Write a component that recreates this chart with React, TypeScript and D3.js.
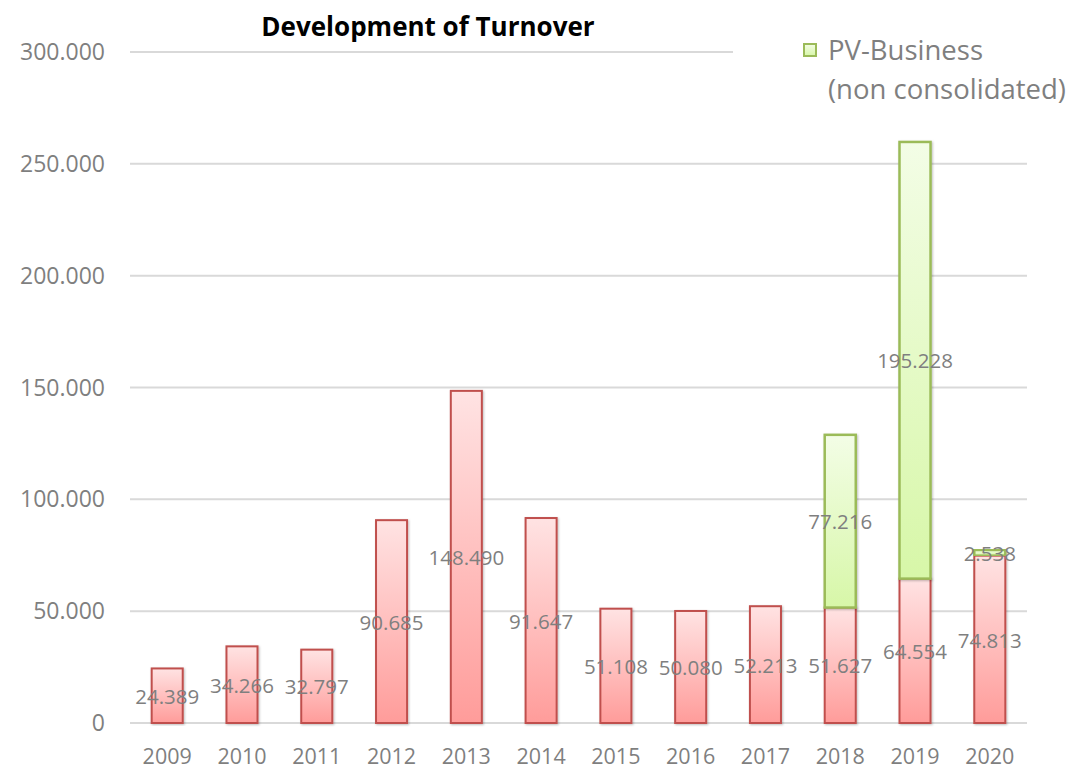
import React, { useEffect, useRef } from 'react';
import * as d3 from 'd3';

const years = ['2009', '2010', '2011', '2012', '2013', '2014', '2015', '2016', '2017', '2018', '2019', '2020'];
const turnover = [24389, 34266, 32797, 90685, 148490, 91647, 51108, 50080, 52213, 51627, 64554, 74813];
const pvBusiness = [0, 0, 0, 0, 0, 0, 0, 0, 0, 77216, 195228, 2538];
const yTicks = [0, 50000, 100000, 150000, 200000, 250000, 300000];
const legendLines = ['PV-Business', '(non consolidated)'];
const title = 'Development of Turnover';

const fmt = (v: number) => {
  if (v === 0) return '0';
  const s = Math.round(v).toString();
  return s.slice(0, s.length - 3) + '.' + s.slice(-3);
};

const App: React.FC = () => {
  const ref = useRef<SVGSVGElement | null>(null);

  useEffect(() => {
    if (!ref.current) return;
    const svg = d3.select(ref.current);
    svg.selectAll('*').remove();
    const width = 1074;
    const height = 769;
    const margin = { top: 52, right: 47, bottom: 46, left: 130 };
    const font = "'Open Sans', sans-serif";

    const x = d3.scaleBand()
      .domain(years)
      .range([margin.left, width - margin.right])
      .paddingInner(0.585)
      .paddingOuter(0.29);

    const y = d3.scaleLinear()
      .domain([0, 300000])
      .range([height - margin.bottom, margin.top]);

    const defs = svg.append('defs');
    const red = defs.append('linearGradient').attr('id', 'gRed').attr('x1', 0).attr('y1', 0).attr('x2', 0).attr('y2', 1);
    red.append('stop').attr('offset', '0%').attr('stop-color', '#ffe3e3');
    red.append('stop').attr('offset', '100%').attr('stop-color', '#ff9c9a');
    const green = defs.append('linearGradient').attr('id', 'gGreen').attr('x1', 0).attr('y1', 0).attr('x2', 0).attr('y2', 1);
    green.append('stop').attr('offset', '0%').attr('stop-color', '#f3fde6');
    green.append('stop').attr('offset', '100%').attr('stop-color', '#d7f7a8');
    const shadow = defs.append('filter').attr('id', 'shadow').attr('x', '-20%').attr('y', '-5%').attr('width', '140%').attr('height', '110%');
    shadow.append('feDropShadow').attr('dx', 1).attr('dy', 1).attr('stdDeviation', 1.2).attr('flood-color', '#000').attr('flood-opacity', 0.25);

    // gridlines
    svg.append('g')
      .selectAll('line')
      .data(yTicks)
      .enter().append('line')
      .attr('x1', margin.left)
      .attr('x2', d => d === 300000 ? 733 : width - margin.right)
      .attr('y1', d => y(d))
      .attr('y2', d => y(d))
      .attr('stroke', '#d9d9d9')
      .attr('stroke-width', 2);

    // y tick labels
    svg.append('g')
      .selectAll('text')
      .data(yTicks)
      .enter().append('text')
      .attr('x', 105)
      .attr('y', d => y(d))
      .attr('dy', '0.35em')
      .attr('text-anchor', 'end')
      .attr('font-family', font)
      .attr('font-size', 23)
      .attr('fill', '#7f7f7f')
      .text(d => fmt(d));

    // x labels
    svg.append('g')
      .selectAll('text')
      .data(years)
      .enter().append('text')
      .attr('x', d => (x(d) as number) + x.bandwidth() / 2)
      .attr('y', 764)
      .attr('text-anchor', 'middle')
      .attr('font-family', font)
      .attr('font-size', 21.5)
      .attr('fill', '#7f7f7f')
      .text(d => d);

    const rows = years.map((yr, i) => ({ yr, a: turnover[i], b: pvBusiness[i] }));

    // turnover bars
    svg.append('g')
      .selectAll('rect')
      .data(rows)
      .enter().append('rect')
      .attr('x', d => x(d.yr) as number)
      .attr('y', d => y(d.a))
      .attr('width', x.bandwidth())
      .attr('height', d => y(0) - y(d.a))
      .attr('fill', 'url(#gRed)')
      .attr('stroke', '#c0504d')
      .attr('stroke-width', 2)
      .attr('filter', 'url(#shadow)');

    // pv bars
    svg.append('g')
      .selectAll('rect')
      .data(rows.filter(d => d.b > 0))
      .enter().append('rect')
      .attr('x', d => x(d.yr) as number)
      .attr('y', d => y(d.a + d.b))
      .attr('width', x.bandwidth())
      .attr('height', d => y(d.a) - y(d.a + d.b))
      .attr('fill', 'url(#gGreen)')
      .attr('stroke', '#9bbb59')
      .attr('stroke-width', 2.5)
      .attr('filter', 'url(#shadow)');

    // labels
    const labels = svg.append('g')
      .attr('font-family', font)
      .attr('font-size', 20.5)
      .attr('fill', '#7f7f7f')
      .attr('text-anchor', 'middle');
    labels.selectAll('.la')
      .data(rows)
      .enter().append('text')
      .attr('class', 'la')
      .attr('x', d => (x(d.yr) as number) + x.bandwidth() / 2)
      .attr('y', d => (y(0) + y(d.a)) / 2 + 1)
      .attr('dy', '0.35em')
      .text(d => fmt(d.a));
    labels.selectAll('.lb')
      .data(rows.filter(d => d.b > 0))
      .enter().append('text')
      .attr('class', 'lb')
      .attr('x', d => (x(d.yr) as number) + x.bandwidth() / 2)
      .attr('y', d => (y(d.a) + y(d.a + d.b)) / 2 + 1)
      .attr('dy', '0.35em')
      .text(d => fmt(d.b));

    // title
    svg.append('text')
      .attr('x', 428)
      .attr('y', 27)
      .attr('dy', '0.35em')
      .attr('text-anchor', 'middle')
      .attr('font-family', font)
      .attr('font-weight', 'bold')
      .attr('font-size', 26)
      .attr('fill', '#000')
      .text(title);

    // legend
    const lg = svg.append('g');
    lg.append('rect')
      .attr('x', 804).attr('y', 44).attr('width', 12).attr('height', 12)
      .attr('fill', 'url(#gGreen)').attr('stroke', '#9bbb59').attr('stroke-width', 2);
    lg.selectAll('text')
      .data(legendLines)
      .enter().append('text')
      .attr('x', 828)
      .attr('y', (d, i) => 50 + i * 39)
      .attr('dy', '0.35em')
      .attr('font-family', font)
      .attr('font-size', 27.5)
      .attr('fill', '#7f7f7f')
      .text(d => d);
  }, []);

  return (
    <svg
      ref={ref}
      width={1074}
      height={769}
      style={{ position: 'absolute', left: 0, top: 0, background: '#fff' }}
    />
  );
};

export default App;
